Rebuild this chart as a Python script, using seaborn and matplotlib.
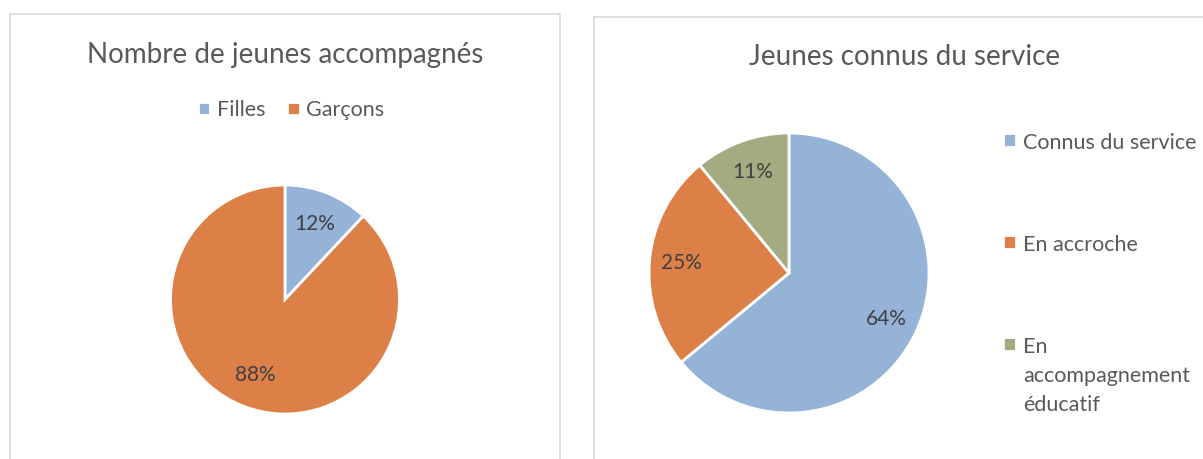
import matplotlib.pyplot as plt
import seaborn as sns
from matplotlib.patches import Rectangle
from matplotlib.offsetbox import HPacker

# data
genre_labels = ["Filles", "Garçons"]
genre_values = [12, 88]

connus_labels = ["Connus du service", "En accroche", "En\naccompagnement\néducatif"]
connus_values = [64, 25, 11]

colors = ["#95B3D7", "#DD8047", "#A5AB81"]

sns.set_theme(style="white")
plt.rcParams["font.family"] = ["Lato", "DejaVu Sans"]

W, H = 1203, 459
fig = plt.figure(figsize=(W / 100, H / 100), dpi=100)


def px_axes(cx, cy, r):
    # axes placed in pixel coords (top-left origin)
    return fig.add_axes([(cx - r) / W, (H - cy - r) / H, 2 * r / W, 2 * r / H])


# panel frames
for x0, y0, x1 in [(10, 14, 560), (594, 17, 1215)]:
    fig.patches.append(Rectangle((x0 / W, -0.05), (x1 - x0) / W, 1.05 - y0 / H,
                                 transform=fig.transFigure, fill=False,
                                 edgecolor="#D9D9D9", linewidth=1.2))

text_col = "#595959"
pct_col = "#404040"
title_size = 20
leg_size = 15.5

# left pie
ax1 = px_axes(285, 299.5, 114.5)
w1, _, t1 = ax1.pie(genre_values, colors=colors[:2], startangle=90, counterclock=False,
                    autopct="%1.0f%%", pctdistance=0.71,
                    wedgeprops=dict(edgecolor="white", linewidth=2),
                    textprops=dict(color=pct_col, fontsize=15))
ax1.set_xlim(-1, 1)
ax1.set_ylim(-1, 1)
fig.text(285 / W, 1 - 55 / H, "Nombre de jeunes accompagnés", ha="center", va="center",
         fontsize=title_size, color=text_col)
fig.legend(w1, genre_labels, loc="center", bbox_to_anchor=(291 / W, 1 - 110 / H), ncol=2,
           frameon=False, fontsize=leg_size, labelcolor=text_col, handlelength=0.6,
           handleheight=0.6, handletextpad=0.3, columnspacing=1.0)

# right pie
ax2 = px_axes(789, 273, 140)
w2, _, t2 = ax2.pie(connus_values, colors=colors, startangle=90, counterclock=False,
                    autopct="%1.0f%%", pctdistance=0.77,
                    wedgeprops=dict(edgecolor="white", linewidth=2),
                    textprops=dict(color=pct_col, fontsize=15))
ax2.set_xlim(-1, 1)
ax2.set_ylim(-1, 1)
fig.text(905 / W, 1 - 57 / H, "Jeunes connus du service", ha="center", va="center",
         fontsize=title_size, color=text_col)
leg2 = fig.legend(w2, connus_labels, loc="upper left", bbox_to_anchor=(984 / W, 1 - 114 / H),
                  frameon=False, fontsize=leg_size, labelcolor=text_col, handlelength=0.6,
                  handleheight=0.6, handletextpad=0.3, labelspacing=3.8)
for t in leg2.get_texts():
    t.set_linespacing(1.55)
# marker next to the first line of a wrapped label, like Excel
for hp in leg2.findobj(match=HPacker):
    kids = hp.get_children()
    if len(kids) == 2 and not isinstance(kids[0], HPacker):
        hp.align = "top"

fig.savefig("out.png", dpi=100)
